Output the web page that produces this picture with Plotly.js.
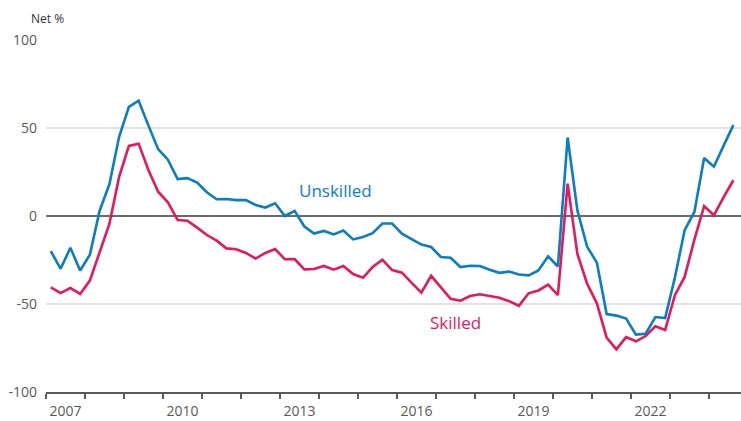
<!DOCTYPE html>
<html>
<head>
<meta charset="utf-8">
<script src="https://cdn.plot.ly/plotly-3.0.1.min.js"></script>
<style>
  html, body { margin: 0; padding: 0; background: #fff; }
  #chart { width: 741px; height: 421px; }
</style>
</head>
<body>
<div id="chart"></div>
<script>
// Quarterly series, 2007 Q1 to 2024 Q3 (net %)
const startYear = 2007;
const unskilled = [
  -20, -30, -18, -31, -22, 3, 18, 45,
  62, 65.5, 51.5, 38, 32, 21, 21.5, 19,
  13.5, 9.5, 9.7, 9, 9, 6.3, 4.8, 7.2,
  0, 2.9, -6, -10, -8.5, -10.5, -8.2, -13.3,
  -11.9, -9.8, -4.3, -4.3, -10, -13.3, -16.2, -17.6,
  -23.3, -23.7, -29, -28.3, -28.4, -30.5, -32.3, -31.6,
  -33.2, -33.7, -30.9, -22.9, -28.7, 44.6, 3.2, -17.5,
  -26.5, -55.7, -56.6, -58.3, -67.4, -66.9, -57.4, -58,
  -35, -8.1, 2.3, 33, 28, 40, 51.6
];
const skilled = [
  -40.5, -43.8, -40.9, -44.3, -36.7, -21.2, -4.5, 22.3,
  39.8, 41.1, 26.1, 13.8, 7.8, -2.3, -2.7, -6.6,
  -10.8, -14, -18.4, -18.9, -21, -24.2, -21, -18.8,
  -24.6, -24.5, -30.3, -30.1, -28.4, -30.5, -28.4, -33,
  -35.1, -29, -24.8, -30.7, -32.2, -38, -43.5, -34,
  -40.6, -47, -48.1, -45.5, -44.5, -45.3, -46.5, -48.4,
  -51, -43.9, -42.3, -39, -45, 18.4, -21.6, -38.5,
  -49.6, -69.1, -75.8, -68.8, -71.2, -68.2, -62.7, -64.8,
  -45, -34.6, -13.4, 5.6, 0.4, 10.7, 20.3
];
const yTickVals = [-100, -50, 0, 50, 100];
const yTickText = ['-100', '-50', '0', '50', '100'];
const xLabelYears = [2007, 2010, 2013, 2016, 2019, 2022];
const xTickYears = [2007, 2008, 2009, 2010, 2011, 2012, 2013, 2014, 2015, 2016,
                    2017, 2018, 2019, 2020, 2021, 2022, 2023, 2024];
const seriesNames = ['Unskilled', 'Skilled'];
const colors = ['#0b7dc2', '#e8175d'];

// mid-quarter positions in decimal years
const xq = unskilled.map((_, i) => startYear + 0.125 + 0.25 * i);

const font = "'Open Sans', 'Noto Sans', sans-serif";

const traces = [
  { x: xq, y: skilled, name: seriesNames[1], type: 'scatter', mode: 'lines',
    line: { color: colors[1], width: 2.6 }, hoverinfo: 'x+y' },
  { x: xq, y: unskilled, name: seriesNames[0], type: 'scatter', mode: 'lines',
    line: { color: colors[0], width: 2.6 }, hoverinfo: 'x+y' }
];

const layout = {
  width: 741, height: 421,
  margin: { l: 46, r: 0, t: 40, b: 29, pad: 0 },
  paper_bgcolor: '#ffffff', plot_bgcolor: '#ffffff',
  showlegend: false,
  font: { family: font, color: '#595959', size: 14 },
  xaxis: {
    range: [2007, 2024.82],
    tickmode: 'array',
    tickvals: xLabelYears.map(y => y + 0.5),
    ticktext: xLabelYears.map(String),
    ticks: '',
    ticklabelstandoff: 6,
    showgrid: false,
    zeroline: false,
    showline: true, linecolor: '#5a5a5a', linewidth: 1.5,
    tickfont: { family: font, size: 14, color: '#595959' },
    minor: { tickmode: 'array', tickvals: xTickYears, ticks: 'outside',
             ticklen: 5, tickwidth: 1.5, tickcolor: '#5a5a5a', showgrid: false },
    fixedrange: true
  },
  yaxis: {
    range: [-100, 100],
    tickmode: 'array',
    tickvals: yTickVals,
    ticktext: yTickText,
    ticks: '',
    ticklabelstandoff: 8,
    showgrid: true, gridcolor: '#e2e2e2', gridwidth: 1.5,
    zeroline: true, zerolinecolor: '#6b6b6b', zerolinewidth: 2,
    showline: false,
    tickfont: { family: font, size: 14, color: '#595959' },
    fixedrange: true
  },
  annotations: [
    { text: 'Net %', xref: 'paper', yref: 'paper',
      x: (29 - 46) / 695, y: (392 - 18) / 352, xanchor: 'left', yanchor: 'middle',
      showarrow: false, font: { family: font, size: 12, color: '#333333' } },
    { text: seriesNames[0], xref: 'x', yref: 'y', x: 2014.43, y: 14.3,
      xanchor: 'center', yanchor: 'middle', showarrow: false,
      font: { family: font, size: 17, color: colors[0] } },
    { text: seriesNames[1], xref: 'x', yref: 'y', x: 2017.51, y: -60.7,
      xanchor: 'center', yanchor: 'middle', showarrow: false,
      font: { family: font, size: 17, color: colors[1] } }
  ]
};

Plotly.newPlot('chart', traces, layout, { displayModeBar: false, staticPlot: true });
</script>
</body>
</html>
